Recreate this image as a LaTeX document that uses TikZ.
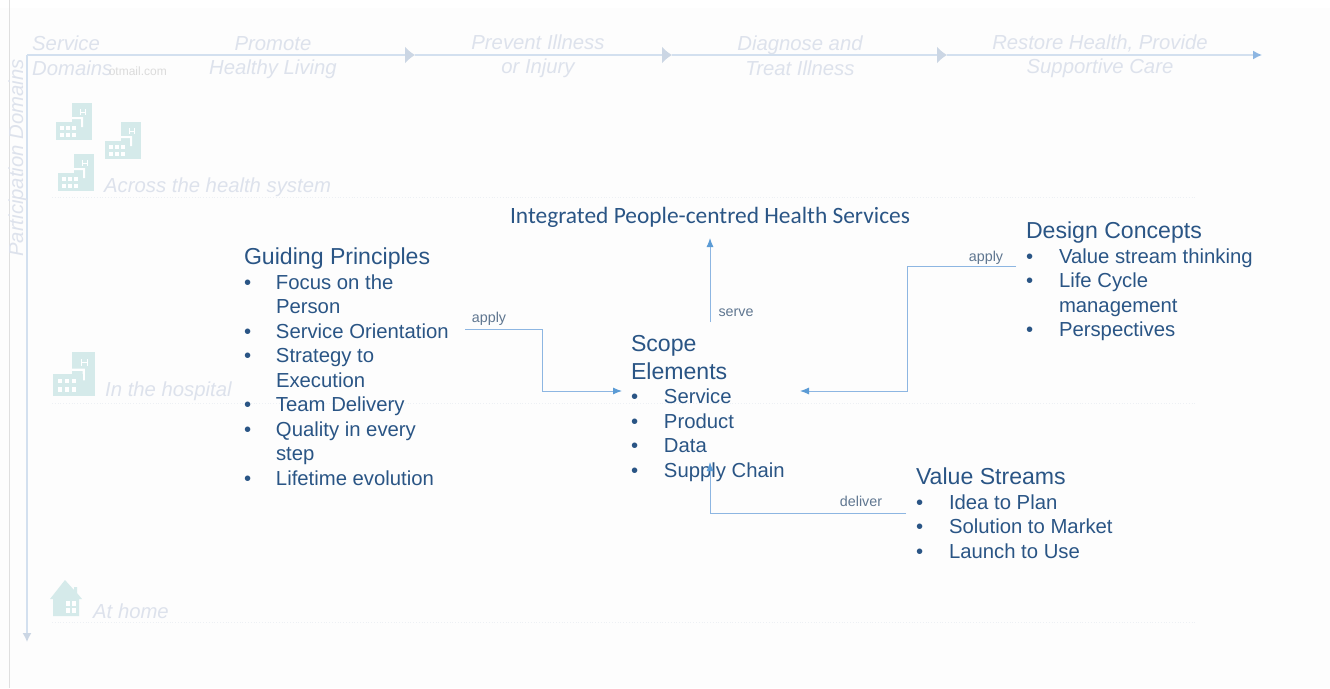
\documentclass[tikz,border=0pt]{standalone}
\usepackage{fontspec}
\usepackage{array}
\setmainfont{Liberation Sans}
\newfontfamily\calibrifont{Carlito}
\usetikzlibrary{arrows.meta, positioning}
\definecolor{page-white}{HTML}{FDFDFD}
\definecolor{ink-blue}{HTML}{2A5585}
\definecolor{link-blue}{HTML}{8DB6E2}
\definecolor{tip-blue}{HTML}{5B9BD5}
\definecolor{label-grey}{HTML}{5F7690}
\definecolor{fade-text}{HTML}{DDE2EC}
\definecolor{axis-blue}{HTML}{D3E0EF}
\definecolor{axis-tip}{HTML}{CBD6E4}
\definecolor{row-line}{HTML}{EDF0F4}
\definecolor{icon-teal}{HTML}{D5EAEA}

\newcommand{\blockhead}[1]{\multicolumn{2}{@{}l@{}}{\fontsize{23.1}{24.5}\selectfont #1}}

\tikzset{
  listblock/.style={anchor=north west, inner sep=0pt, outer sep=0pt, text=ink-blue, font=\fontsize{20.3}{24.5}\selectfont},
  fadelabel/.style={text=fade-text, font=\fontsize{20.3}{24.5}\selectfont\itshape, align=center, inner sep=0pt},
  rowlabel/.style={text=fade-text, font=\fontsize{20.3}{24}\selectfont\itshape, anchor=base west, inner sep=0pt},
  link/.style={draw=link-blue, line width=1pt, -{Latex[length=9pt,width=7pt,color=tip-blue]}},
  linklabel/.style={text=label-grey, font=\fontsize{14.3}{16}\selectfont, inner sep=0pt},
  axisline/.style={draw=axis-blue, line width=1.4pt, -{Latex[length=10pt,width=17pt,color=axis-tip]}},
  rowline/.style={draw=row-line, line width=0.8pt, dotted},
  hospital/.pic={
    \fill[icon-teal] (16,0) rectangle (36,37);
    \fill[white] (16,14) -- (27,14) -- (27,24) -- (25,24) -- (25,16) -- (16,16) -- cycle;
    \fill[icon-teal] (0,19) -- (25,19) -- (25,37) -- (0,37) -- cycle;
    \foreach \wx in {4,10,16} \foreach \wy in {23,30} \fill[white] (\wx,\wy) rectangle +(3.6,3.6);
    \draw[white, line width=1pt] (24,6) -- (24,12) (29,6) -- (29,12) (24,9) -- (29,9);
  },
  homeicon/.pic={
    \fill[icon-teal] (0,19) -- (15,0) -- (24,10) -- (24,7) -- (27,7) -- (27,13) -- (32,19) -- (29,19) -- (29,36) -- (3,36) -- (3,19) -- cycle;
    \foreach \wx in {16,22} \foreach \wy in {21,28} \fill[white] (\wx,\wy) rectangle +(4.4,4.6);
  }
}

\begin{document}
\begin{tikzpicture}[x=1pt, y=-1pt]

\useasboundingbox (0,0) rectangle (1330,688);
\fill[page-white] (0,8) rectangle (1330,688);
\draw[draw=gray!25, line width=0.8pt] (9.5,0) -- (9.5,688);

\coordinate (origin) at (27,55);
\coordinate (step1) at (415,55);
\coordinate (step2) at (672,55);
\coordinate (step3) at (947,55);
\coordinate (axisend) at (1262,55);
\coordinate (axisdown) at (27,642);

\draw[axisline] (origin) -- (step1);
\draw[axisline] (step1) -- (step2);
\draw[axisline] (step2) -- (step3);
\draw[axisline, -{Latex[length=9pt,width=9pt,color=link-blue]}] (step3) -- (axisend);
\draw[axisline, -{Latex[length=9pt,width=9pt,color=axis-tip]}] (origin) -- (axisdown);

\node[rowlabel] (svc) at (32,50) {Service};
\node[rowlabel] (dom) at (32,75) {Domains};
\node[text=gray!28, font=\fontsize{12}{14}\selectfont, anchor=base east, inner sep=0pt] (mail) at (167,75) {otmail.com};
\node[fadelabel] (col1) at (273,57.5) {Promote\\Healthy Living};
\node[fadelabel] (col2) at (538,56) {Prevent Illness\\or Injury};
\node[fadelabel] (col3) at (800,55.5) {Diagnose and\\Treat Illness};
\node[fadelabel] (col4) at (1100,56) {Restore Health, Provide\\Supportive Care};
\node[fadelabel, rotate=90, anchor=center] (part) at (18,158) {Participation Domains};

\pic at (56,103) {hospital};
\pic at (105,122) {hospital};
\pic at (58,154) {hospital};
\pic[scale=1.18] at (53,352) {hospital};
\pic at (50,580) {homeicon};

\node[rowlabel] (row1) at (104,192) {Across the health system};
\node[rowlabel] (row2) at (105,396) {In the hospital};
\node[rowlabel] (row3) at (93,618) {At home};

\draw[rowline] (52,197) -- (1197,197);
\draw[rowline] (52,403) -- (1197,403);
\draw[rowline] (52,622) -- (1197,622);

\node[text=ink-blue, font=\calibrifont\fontsize{23.4}{26}\selectfont, inner sep=0pt] (ihs) at (710,217) {Integrated People-centred Health Services};

\node[listblock] (gp) at (244,247.5) {\begin{tabular}{@{}p{32pt}@{}p{189pt}@{}}
\blockhead{Guiding Principles}\\
\textbullet & Focus on the\\
 & Person\\
\textbullet & Service Orientation\\
\textbullet & Strategy to\\
 & Execution\\
\textbullet & Team Delivery\\
\textbullet & Quality in every\\
 & step\\
\textbullet & Lifetime evolution
\end{tabular}};

\node[listblock] (scope) at (631,334) {\begin{tabular}{@{}p{33pt}@{}p{125pt}@{}}
\blockhead{Scope}\\[3.5pt]
\blockhead{Elements}\\
\textbullet & Service\\
\textbullet & Product\\
\textbullet & Data\\
\textbullet & Supply Chain
\end{tabular}};

\node[listblock] (dc) at (1026,221.5) {\begin{tabular}{@{}p{33pt}@{}p{200pt}@{}}
\blockhead{Design Concepts}\\
\textbullet & Value stream thinking\\
\textbullet & Life Cycle\\
 & management\\
\textbullet & Perspectives
\end{tabular}};

\node[listblock] (vs) at (916,467.5) {\begin{tabular}{@{}p{33pt}@{}p{170pt}@{}}
\blockhead{Value Streams}\\
\textbullet & Idea to Plan\\
\textbullet & Solution to Market\\
\textbullet & Launch to Use
\end{tabular}};

\draw[link] (gp.east |- 0,329) -- (542,329) |- ([xshift=-9pt]scope.west |- 0,391);
\draw[link] ([yshift=12pt]scope.north) -- (ihs.south |- 0,238);
\draw[link] ([xshift=-10pt]dc.west |- 0,266) -- (907,266) |- (800,391);
\draw[link] ([xshift=-10pt]vs.west |- 0,513) -| (scope.south |- 0,462);

\node[linklabel] (apply1) at (489,319) {apply};
\node[linklabel] (serve) at (736,313) {serve};
\node[linklabel] (apply2) at (986,258) {apply};
\node[linklabel] (deliver) at (861,501) {deliver};

\end{tikzpicture}
\end{document}
